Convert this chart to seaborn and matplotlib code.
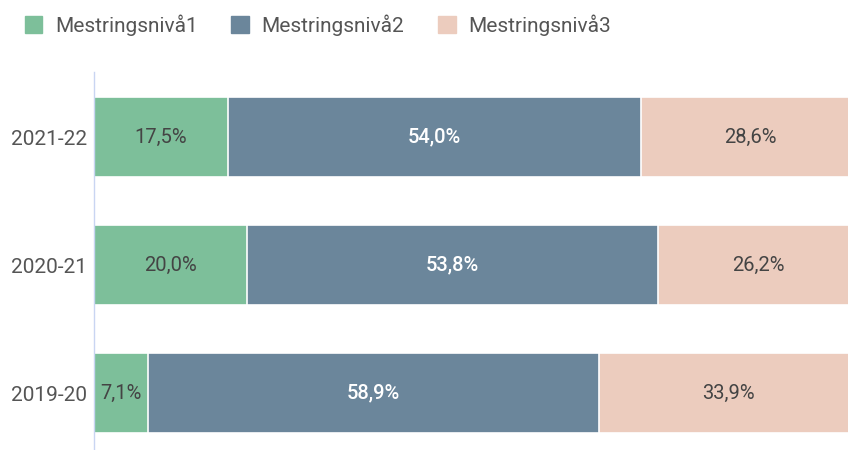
import numpy as np
import pandas as pd
import matplotlib
matplotlib.use("Agg")
import matplotlib.pyplot as plt
import seaborn as sns
from matplotlib.patches import Patch

# data
years = ["2021-22", "2020-21", "2019-20"]
levels = ["Mestringsnivå1", "Mestringsnivå2", "Mestringsnivå3"]
niva1 = [17.5, 20.0, 7.1]
niva2 = [54.0, 53.8, 58.9]
niva3 = [28.6, 26.2, 33.9]
colors = ["#7dbf9a", "#6b869b", "#ecccbe"]
text_colors = ["#444444", "#ffffff", "#444444"]

sns.set_theme(style="white")
plt.rcParams["font.family"] = ["Roboto", "DejaVu Sans"]

df = pd.DataFrame({"year": years, "n1": niva1, "n2": niva2, "n3": niva3})
df["c1"] = df["n1"]
df["c2"] = df["n1"] + df["n2"]
df["c3"] = df["n1"] + df["n2"] + df["n3"]

fig = plt.figure(figsize=(8.48, 4.5), dpi=100)
ax = fig.add_axes([0.111, 0.0, 0.889, 0.84])

# stacked bars: draw cumulative totals, widest first
for col, color in zip(["c3", "c2", "c1"], colors[::-1]):
    sns.barplot(data=df, x=col, y="year", orient="h", color=color, width=0.625,
                edgecolor="white", linewidth=1.2, saturation=1, ax=ax)

# value labels in the middle of each segment
for i, row in df.iterrows():
    left = 0
    for j, val in enumerate([row["n1"], row["n2"], row["n3"]]):
        ax.text(left + val / 2, i, f"{val:.1f}%".replace(".", ","),
                ha="center", va="center", fontsize=14.5, color=text_colors[j],
                fontweight="medium" if j == 1 else "normal")
        left += val

# the right end of the chart is cut off in the reference
ax.set_xlim(0, 98.6)
ax.set_ylim(2.445, -0.51)
ax.set_xlabel("")
ax.set_ylabel("")
ax.set_xticks([])
ax.tick_params(axis="y", length=0, labelsize=15, labelcolor="#555555", pad=5)
for s in ["top", "right", "bottom"]:
    ax.spines[s].set_visible(False)
ax.spines["left"].set_color("#c9d5f2")
ax.spines["left"].set_linewidth(1)

handles = [Patch(facecolor=c, edgecolor=c, label=l) for c, l in zip(colors, levels)]
fig.legend(handles=handles, loc="upper left", bbox_to_anchor=(0.007, 1.01),
           ncol=3, frameon=False, fontsize=15, labelcolor="#555555",
           handlelength=0.85, handleheight=0.85, handletextpad=0.6, columnspacing=1.62)

fig.savefig("out.png", dpi=100)
